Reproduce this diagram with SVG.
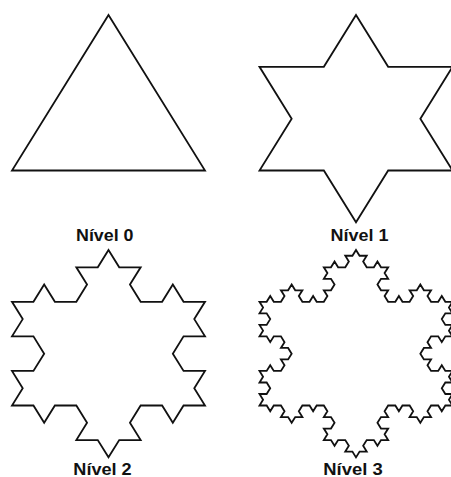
<svg xmlns="http://www.w3.org/2000/svg" width="451" height="477" viewBox="0 0 451 477">
<style>
.k{fill:none;stroke:#111;stroke-width:1.8;stroke-linejoin:miter;vector-effect:non-scaling-stroke}
.lbl{font-family:"Liberation Sans",Arial,sans-serif;font-weight:bold;font-size:16.5px;fill:#111}
</style>
<rect width="451" height="477" fill="#fff"/>
<g id="level0">
<polygon class="k" vector-effect="non-scaling-stroke" transform="translate(12,15) scale(96.5,155.5)" points="1,0 2,1 0,1"/>
<text class="lbl" x="76" y="241" textLength="57.5" lengthAdjust="spacingAndGlyphs">Nível 0</text>
</g>
<g id="level1">
<polygon class="k" vector-effect="non-scaling-stroke" transform="translate(259.5,15) scale(32.17,51.83)" points="3,0 4,1 6,1 5,2 6,3 4,3 3,4 2,3 0,3 1,2 0,1 2,1"/>
<text class="lbl" x="330.5" y="241" textLength="58" lengthAdjust="spacingAndGlyphs">Nível 1</text>
</g>
<g id="level2">
<polygon class="k" vector-effect="non-scaling-stroke" transform="translate(12,250) scale(10.722,17.278)" points="9,0 10,1 12,1 11,2 12,3 14,3 15,2 16,3 18,3 17,4 18,5 16,5 15,6 16,7 18,7 17,8 18,9 16,9 15,10 14,9 12,9 11,10 12,11 10,11 9,12 8,11 6,11 7,10 6,9 4,9 3,10 2,9 0,9 1,8 0,7 2,7 3,6 2,5 0,5 1,4 0,3 2,3 3,2 4,3 6,3 7,2 6,1 8,1"/>
<text class="lbl" x="73.3" y="475" textLength="58.4" lengthAdjust="spacingAndGlyphs">Nível 2</text>
</g>
<g id="level3">
<polygon class="k" vector-effect="non-scaling-stroke" transform="translate(259.5,250) scale(3.574,5.76)" points="27,0 28,1 30,1 29,2 30,3 32,3 33,2 34,3 36,3 35,4 36,5 34,5 33,6 34,7 36,7 35,8 36,9 38,9 39,8 40,9 42,9 43,8 42,7 44,7 45,6 46,7 48,7 47,8 48,9 50,9 51,8 52,9 54,9 53,10 54,11 52,11 51,12 52,13 54,13 53,14 54,15 52,15 51,16 50,15 48,15 47,16 48,17 46,17 45,18 46,19 48,19 47,20 48,21 50,21 51,20 52,21 54,21 53,22 54,23 52,23 51,24 52,25 54,25 53,26 54,27 52,27 51,28 50,27 48,27 47,28 48,29 46,29 45,30 44,29 42,29 43,28 42,27 40,27 39,28 38,27 36,27 35,28 36,29 34,29 33,30 34,31 36,31 35,32 36,33 34,33 33,34 32,33 30,33 29,34 30,35 28,35 27,36 26,35 24,35 25,34 24,33 22,33 21,34 20,33 18,33 19,32 18,31 20,31 21,30 20,29 18,29 19,28 18,27 16,27 15,28 14,27 12,27 11,28 12,29 10,29 9,30 8,29 6,29 7,28 6,27 4,27 3,28 2,27 0,27 1,26 0,25 2,25 3,24 2,23 0,23 1,22 0,21 2,21 3,20 4,21 6,21 7,20 6,19 8,19 9,18 8,17 6,17 7,16 6,15 4,15 3,16 2,15 0,15 1,14 0,13 2,13 3,12 2,11 0,11 1,10 0,9 2,9 3,8 4,9 6,9 7,8 6,7 8,7 9,6 10,7 12,7 11,8 12,9 14,9 15,8 16,9 18,9 19,8 18,7 20,7 21,6 20,5 18,5 19,4 18,3 20,3 21,2 22,3 24,3 25,2 24,1 26,1"/>
<text class="lbl" x="323.3" y="475" textLength="59.4" lengthAdjust="spacingAndGlyphs">Nível 3</text>
</g>
</svg>
